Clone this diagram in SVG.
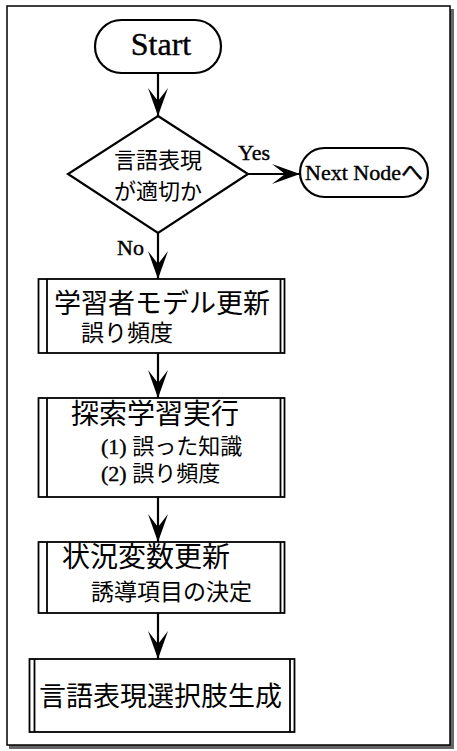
<svg xmlns="http://www.w3.org/2000/svg" width="457" height="751" viewBox="0 0 457 751">
<style>
.ln{fill:none;stroke:#000;stroke-width:1.8}
.box{fill:#fff;stroke:#000;stroke-width:1.8}
.sh{fill:#fff;stroke:#000;stroke-width:2.2}
.lat{font-family:"Liberation Serif","Noto Sans CJK JP",serif;fill:#000;stroke:#000;stroke-width:0.4}
.jp{font-family:"Liberation Serif","Noto Sans CJK JP",sans-serif;fill:#000}
.con{fill:none;stroke:#000;stroke-width:2.2}
</style>
<defs>
<marker id="ah" markerUnits="userSpaceOnUse" markerWidth="32" markerHeight="26" viewBox="-30 -13 32 26" refX="0" refY="0" orient="auto">
<path d="M0,0 Q-14,-5 -28,-10 L-15,0 L-28,10 Q-14,5 0,0 Z" fill="#000"/>
</marker>
</defs>
<rect width="457" height="751" fill="#fff"/>
<g id="frame">
<rect x="450" y="9" width="4" height="740" fill="#666"/>
<rect x="9" y="745" width="445" height="4" fill="#666"/>
<rect x="7" y="6" width="443" height="739" fill="#fff" stroke="#000" stroke-width="1.5"/>
</g>
<g id="connectors">
<line class="con" x1="158" y1="73" x2="158" y2="116" marker-end="url(#ah)"/>
<line class="con" x1="248" y1="174" x2="300" y2="174" marker-end="url(#ah)"/>
<line class="con" x1="158" y1="233" x2="158" y2="279" marker-end="url(#ah)"/>
<line class="con" x1="158" y1="353" x2="158" y2="398" marker-end="url(#ah)"/>
<line class="con" x1="158" y1="497" x2="158" y2="542" marker-end="url(#ah)"/>
<line class="con" x1="158" y1="613" x2="158" y2="659" marker-end="url(#ah)"/>
<text class="lat" x="238" y="160" font-size="22">Yes</text>
<text class="lat" x="117" y="255" font-size="22">No</text>
</g>
<g id="start">
<rect class="sh" x="95" y="20" width="126" height="53" rx="26.5" ry="26.5"/>
<text class="lat" x="161" y="55" font-size="32" text-anchor="middle">Start</text>
</g>
<g id="decision">
<polygon class="sh" points="158,116 248,174 158,233 68,174"/>
<text class="jp" x="158" y="168" font-size="22" text-anchor="middle">言語表現</text>
<text class="jp" x="158" y="199" font-size="22" text-anchor="middle">が適切か</text>
</g>
<g id="next">
<rect class="sh" x="300" y="148" width="128" height="49" rx="24.5" ry="24.5"/>
<text class="lat" x="305" y="180" font-size="22">Next Nodeへ</text>
</g>
<g id="box1">
<rect class="box" x="38.5" y="279" width="246" height="74"/>
<line class="ln" x1="47" y1="279" x2="47" y2="353"/>
<line class="ln" x1="280.5" y1="279" x2="280.5" y2="353"/>
<text class="jp" x="54" y="313" font-size="27">学習者モデル更新</text>
<text class="jp" x="81" y="341" font-size="23">誤り頻度</text>
</g>
<g id="box2">
<rect class="box" x="38.5" y="398" width="246" height="99"/>
<line class="ln" x1="47" y1="398" x2="47" y2="497"/>
<line class="ln" x1="280.5" y1="398" x2="280.5" y2="497"/>
<text class="jp" x="71" y="424" font-size="28">探索学習実行</text>
<text class="jp" x="101" y="454" font-size="22"><tspan class="lat">(1)</tspan> 誤った知識</text>
<text class="jp" x="101" y="481" font-size="22"><tspan class="lat">(2)</tspan> 誤り頻度</text>
</g>
<g id="box3">
<rect class="box" x="38.5" y="542" width="246" height="71"/>
<line class="ln" x1="47" y1="542" x2="47" y2="613"/>
<line class="ln" x1="280.5" y1="542" x2="280.5" y2="613"/>
<text class="jp" x="62" y="567" font-size="28">状況変数更新</text>
<text class="jp" x="91" y="600" font-size="23">誘導項目の決定</text>
</g>
<g id="box4">
<rect class="box" x="29.5" y="659" width="265" height="73"/>
<line class="ln" x1="34.5" y1="659" x2="34.5" y2="732"/>
<line class="ln" x1="290" y1="659" x2="290" y2="732"/>
<text class="jp" x="39" y="706" font-size="27">言語表現選択肢生成</text>
</g>
</svg>
